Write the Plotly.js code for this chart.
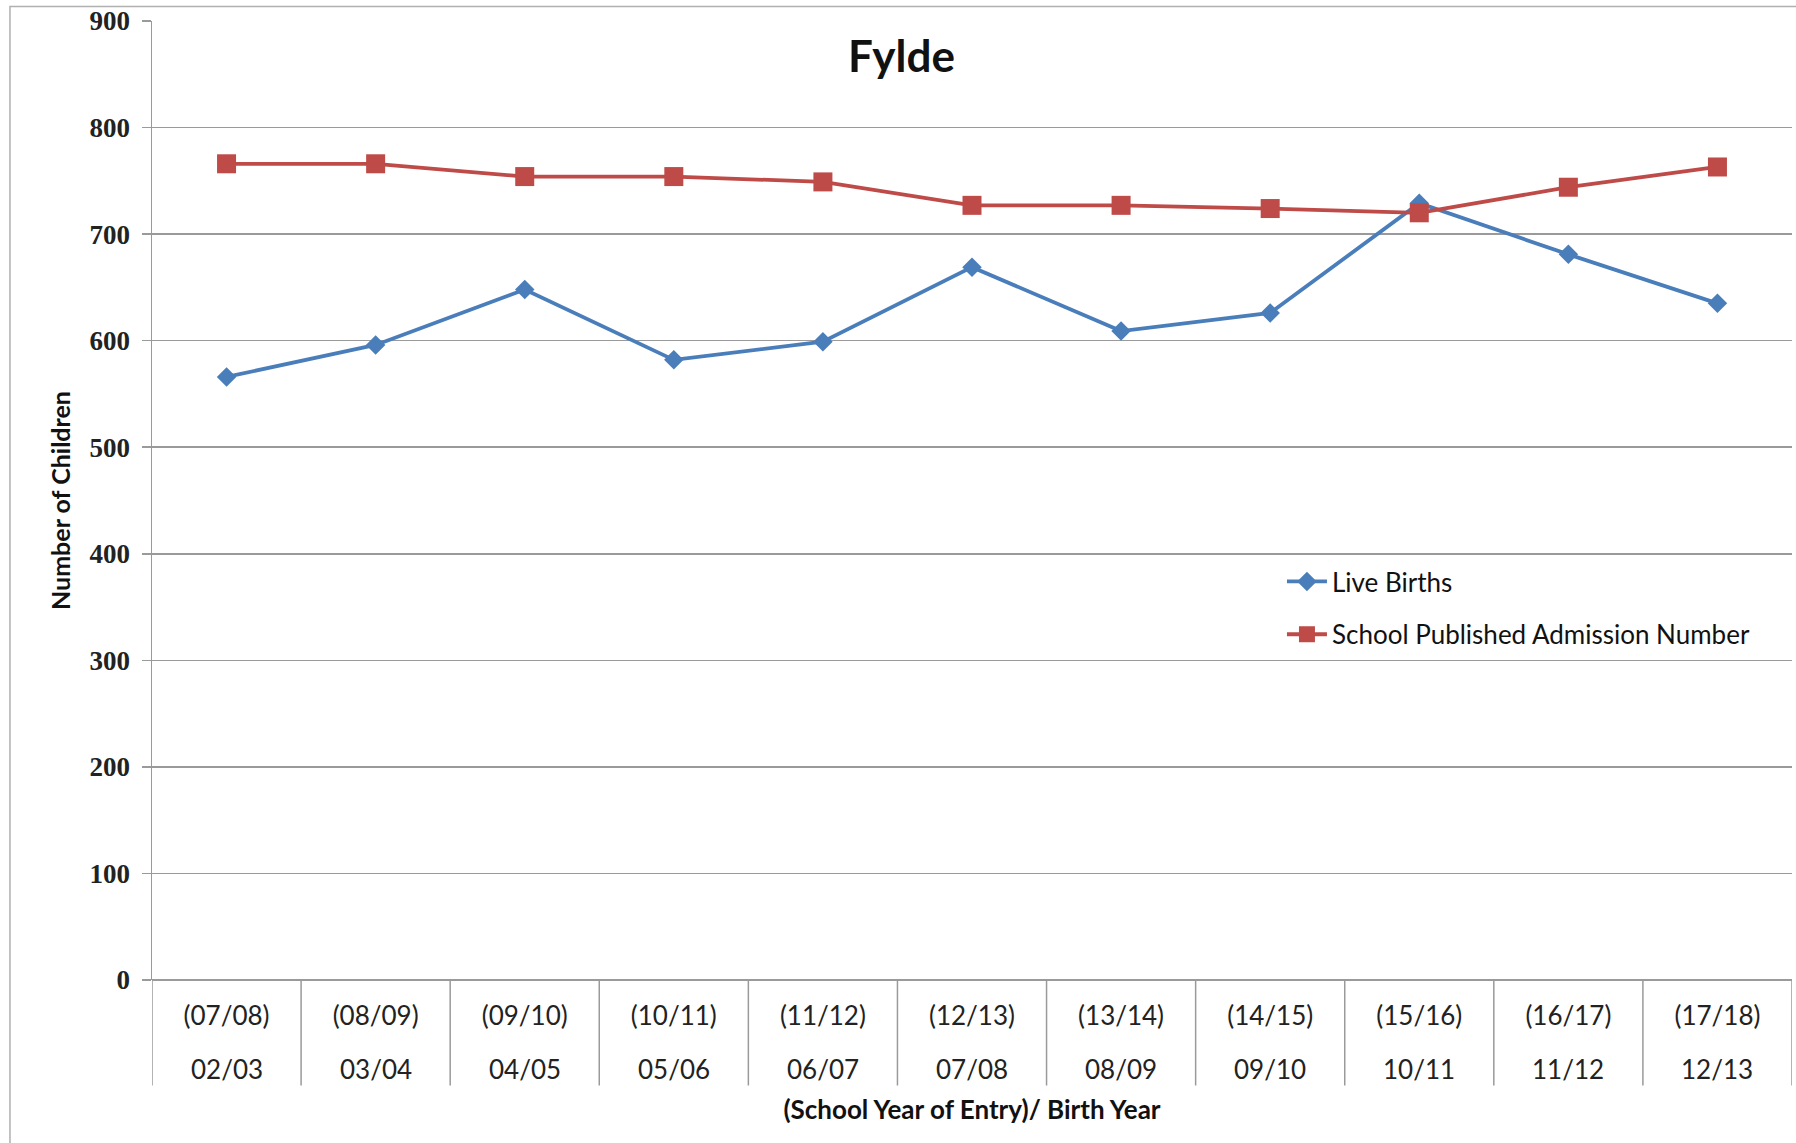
<!DOCTYPE html>
<html>
<head>
<meta charset="utf-8">
<script src="https://cdn.plot.ly/plotly-3.0.1.min.js"></script>
<style>html,body{margin:0;padding:0;background:#fff;}#chart{width:1796px;height:1143px;}</style>
</head>
<body>
<div id="chart"></div>
<script>
const entryYears = ["(07/08)","(08/09)","(09/10)","(10/11)","(11/12)","(12/13)","(13/14)","(14/15)","(15/16)","(16/17)","(17/18)"];
const birthYears = ["02/03","03/04","04/05","05/06","06/07","07/08","08/09","09/10","10/11","11/12","12/13"];
const liveBirths = [566, 596, 648, 582, 599, 669, 609, 626, 729, 681, 635];
const admissionNumber = [766, 766, 754, 754, 749, 727, 727, 724, 720, 744, 763];
const yTicks = [0,100,200,300,400,500,600,700,800,900];

const idx = entryYears.map((_, i) => i);
const sansFont = "Lato, 'Open Sans', sans-serif";
const gridCol = "#9a9a9a";

const traces = [
  {
    x: idx, y: liveBirths, name: "Live Births", type: "scatter", mode: "lines+markers",
    line: {color: "#4A7EBB", width: 3.8},
    marker: {symbol: "diamond", size: 15, color: "#4A7EBB"},
    legendgroup: "a"
  },
  {
    x: idx, y: admissionNumber, name: "School Published Admission Number", type: "scatter", mode: "lines+markers",
    line: {color: "#BE4B48", width: 3.8},
    marker: {symbol: "square", size: 19, color: "#BE4B48"},
    legendgroup: "b"
  }
];

const shapes = [];
for (let i = 0; i <= entryYears.length; i++) {
  shapes.push({type: "line", xref: "x", yref: "paper", x0: i - 0.5, x1: i - 0.5, y0: 0, y1: -0.11,
    line: {color: gridCol, width: 1.5}});
}
// outer chart border
shapes.push({type: "rect", xref: "paper", yref: "paper", x0: -0.0866, x1: 1.2, y0: -0.2, y1: 1.015,
  line: {color: "#b0b0b0", width: 1.5}, fillcolor: "rgba(0,0,0,0)"});

const annotations = birthYears.map((b, i) => ({
  x: i, xref: "x", y: -0.093, yref: "paper", text: b, showarrow: false,
  xanchor: "center", yanchor: "middle",
  font: {family: sansFont, size: 26, color: "#222"}
}));

const layout = {
  width: 1796, height: 1143,
  margin: {l: 152, r: 4, t: 21, b: 162.5, autoexpand: false},
  paper_bgcolor: "#fff", plot_bgcolor: "#fff",
  showlegend: true,
  title: {text: "<b>Fylde</b>", font: {family: sansFont, size: 44, color: "#111"},
    xref: "paper", x: 0.457, xanchor: "center", yref: "container", y: 1 - 57/1143, yanchor: "middle"},
  xaxis: {
    type: "linear", range: [-0.5, entryYears.length - 0.5],
    tickmode: "array", tickvals: idx, ticktext: entryYears,
    ticks: "", showgrid: false, zeroline: false, showline: false,
    tickfont: {family: sansFont, size: 26, color: "#222"},
    ticklabelstandoff: 18,
    title: {text: "<b>(School Year of Entry)/ Birth Year</b>", font: {family: sansFont, size: 26, color: "#111"}, standoff: 70},
    automargin: false, fixedrange: true
  },
  yaxis: {
    range: [0, 900], tickmode: "array", tickvals: yTicks,
    ticks: "outside", ticklen: 9, tickcolor: gridCol, tickwidth: 1.5,
    showgrid: true, gridcolor: gridCol, gridwidth: 1.5,
    showline: true, linecolor: gridCol, linewidth: 1.5, zeroline: true, zerolinecolor: gridCol, zerolinewidth: 1.5,
    tickfont: {family: "'Liberation Serif', serif", size: 27, color: "#222", weight: "bold"},
    ticklabelstandoff: 6,
    title: {text: "<b>Number of Children</b>", font: {family: sansFont, size: 25, color: "#111"}, standoff: 12},
    automargin: false, fixedrange: true
  },
  legend: {
    x: 0.689, y: 0.44, xanchor: "left", yanchor: "top",
    bgcolor: "rgba(255,255,255,0)", borderwidth: 0,
    font: {family: sansFont, size: 26, color: "#111"},
    tracegroupgap: 16, itemwidth: 40
  },
  shapes: shapes,
  annotations: annotations
};

Plotly.newPlot("chart", traces, layout, {displayModeBar: false, staticPlot: true});
</script>
</body>
</html>
